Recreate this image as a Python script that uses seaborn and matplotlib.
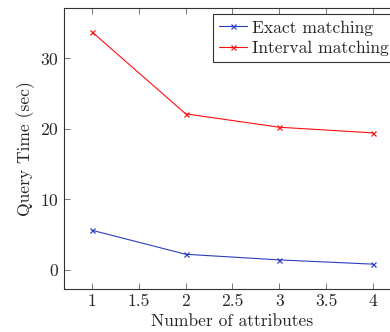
import pandas as pd
import matplotlib
matplotlib.use("Agg")
import matplotlib.pyplot as plt
import seaborn as sns

attributes = [1, 2, 3, 4]
exact_time = [5.6, 2.2, 1.4, 0.8]
interval_time = [33.7, 22.1, 20.2, 19.4]
series_names = ["Exact matching", "Interval matching"]
colors = ["#2a3fbf", "#ff1010"]

df = pd.DataFrame({
    "attrs": attributes * 2,
    "time": exact_time + interval_time,
    "series": [series_names[0]] * 4 + [series_names[1]] * 4,
})

sns.set_style("ticks")
plt.rcParams["font.family"] = ["cmr10", "DejaVu Serif"]
plt.rcParams["axes.formatter.use_mathtext"] = True
fs = 12.6

fig = plt.figure(figsize=(3.9, 3.32), dpi=100)
# right spine sits just past the image edge, like the reference
ax = fig.add_axes([0.164, 0.13, 0.864, 0.846])

sns.lineplot(data=df, x="attrs", y="time", hue="series", palette=colors,
             marker="x", markersize=3.6, markeredgewidth=0.9, linewidth=0.8,
             dashes=False, ax=ax)
# seaborn paints marker edges white; give them the line colour
for line in ax.lines:
    line.set_markeredgecolor(line.get_color())

ax.set_xlim(0.7, 4.3)
ax.set_ylim(-2.7, 37.1)
ax.set_xticks([1, 1.5, 2, 2.5, 3, 3.5, 4])
ax.set_xticklabels(["1", "1.5", "2", "2.5", "3", "3.5", "4"])
ax.set_yticks([0, 10, 20, 30])
ax.tick_params(direction="in", top=True, right=True, length=4, width=0.5,
               color="#444444", labelsize=fs)
for s in ax.spines.values():
    s.set_linewidth(0.8)
    s.set_color("#333333")

ax.set_xlabel("Number of attributes", fontsize=fs, labelpad=3)
ax.set_ylabel("Query Time (sec)", fontsize=fs)

leg = ax.legend(loc="upper right", fontsize=fs, frameon=True, fancybox=False,
                edgecolor="#333333", framealpha=1, borderpad=0.35,
                handlelength=1.6, handletextpad=0.3, labelspacing=0.3,
                borderaxespad=0.35)
leg.get_frame().set_linewidth(0.8)
for h in leg.get_lines():
    h.set_markeredgecolor(h.get_color())

fig.savefig("out.png", dpi=100)
